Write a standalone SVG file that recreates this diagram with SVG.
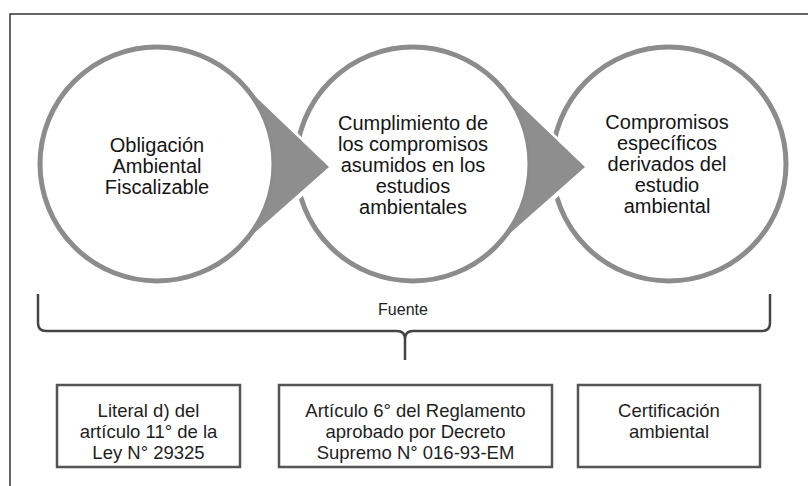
<svg xmlns="http://www.w3.org/2000/svg" width="808" height="486" viewBox="0 0 808 486">
<style>
.ring{fill:#ffffff;stroke:#8c8c8c;stroke-width:5}
.arrow{fill:#8e8e8e;stroke:none}
.gap{fill:none;stroke:#ffffff;stroke-width:6;stroke-linejoin:round}
.ct{font-family:"Liberation Sans",Arial,sans-serif;font-size:20px;fill:#151515;text-anchor:middle}
.bt{font-family:"Liberation Sans",Arial,sans-serif;font-size:18.5px;fill:#1e1e1e;text-anchor:middle}
.box{fill:#ffffff;stroke:#555;stroke-width:2.5}
</style>
<rect x="0" y="0" width="808" height="486" fill="#ffffff"/>
<rect x="10" y="14" width="820" height="500" fill="none" stroke="#333" stroke-width="1.5"/>
<g id="node1">
<circle class="ring" cx="157" cy="164" r="117"/>
<text class="ct"><tspan x="157" y="152">Obligación</tspan><tspan x="157" y="173">Ambiental</tspan><tspan x="157" y="194">Fiscalizable</tspan></text>
</g>
<g id="node2">
<circle class="ring" cx="413" cy="164" r="117"/>
<text class="ct"><tspan x="413" y="130">Cumplimiento de</tspan><tspan x="413" y="151">los compromisos</tspan><tspan x="413" y="172">asumidos en los</tspan><tspan x="413" y="193">estudios</tspan><tspan x="413" y="214">ambientales</tspan></text>
</g>
<g id="node3">
<circle class="ring" cx="669" cy="164" r="117"/>
<text class="ct"><tspan x="667" y="129">Compromisos</tspan><tspan x="667" y="150">específicos</tspan><tspan x="667" y="171">derivados del</tspan><tspan x="667" y="192">estudio</tspan><tspan x="667" y="213">ambiental</tspan></text>
</g>
<g id="connectors">
<polyline class="gap" points="281,121.6 329,167 281,212.4"/>
<path class="arrow" d="M250,91.3 L329,167 L250,236.7 A119 119 0 0 0 250,91.3 Z"/>
<polyline class="gap" points="537,121.6 585,167 537,212.4"/>
<path class="arrow" d="M506,91.3 L585,167 L506,236.7 A119 119 0 0 0 506,91.3 Z"/>
<path d="M38,294 V323 Q38,331 46,331 H397 Q405,331 405,339 V360 M405,339 Q405,331 413,331 H762 Q770,331 770,323 V294" fill="none" stroke="#444" stroke-width="2.5"/>
<text x="403" y="315" font-family="Liberation Sans, Arial, sans-serif" font-size="16" fill="#222" text-anchor="middle">Fuente</text>
</g>
<g id="box1">
<rect class="box" x="57" y="385" width="183" height="82"/>
<text class="bt"><tspan x="148.5" y="417">Literal d) del</tspan><tspan x="148.5" y="438">artículo 11° de la</tspan><tspan x="148.5" y="459">Ley N° 29325</tspan></text>
</g>
<g id="box2">
<rect class="box" x="279" y="385" width="273" height="82"/>
<text class="bt"><tspan x="415.5" y="417">Artículo 6° del Reglamento</tspan><tspan x="415.5" y="438">aprobado por Decreto</tspan><tspan x="415.5" y="459">Supremo N° 016-93-EM</tspan></text>
</g>
<g id="box3">
<rect class="box" x="578" y="385" width="182" height="82"/>
<text class="bt"><tspan x="669" y="417">Certificación</tspan><tspan x="669" y="438">ambiental</tspan></text>
</g>
</svg>
